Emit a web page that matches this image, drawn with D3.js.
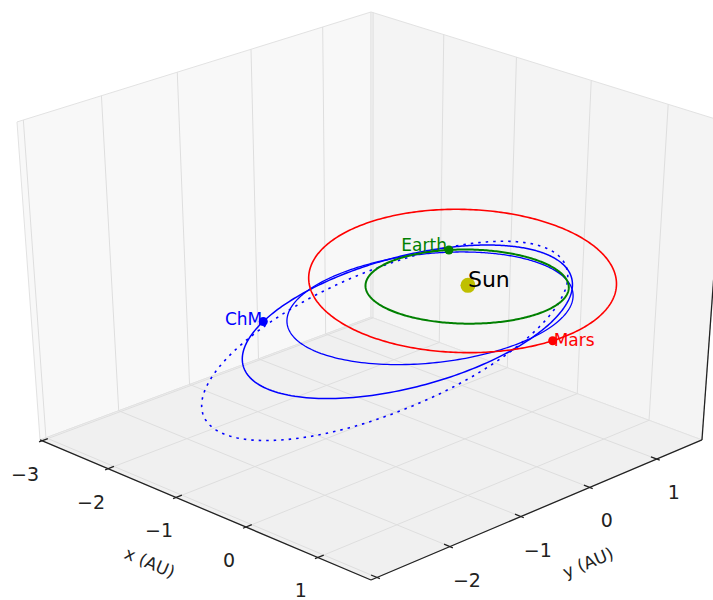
<!DOCTYPE html>
<html><head><meta charset="utf-8">
<script src="https://cdn.jsdelivr.net/npm/d3@7"></script>
<style>body{margin:0;background:#fff} svg{display:block} text{font-family:"DejaVu Sans",sans-serif}</style>
</head><body><svg id="chart" width="713" height="600"></svg>
<script>
// Orbits of Earth, Mars and the Chelyabinsk meteoroid (ChM), 3D view
const xLim = [-3.03, 1.72], yLim = [-3.08, 1.69], zLim = [-0.5, 0.5];
const xTicks = [-3, -2, -1, 0, 1];
const yTicks = [-3, -2, -1, 0, 1];

// orbital elements (AU, degrees)
const orbitNames = ["ChM-1", "ChM-2", "ChM-3", "Earth", "Mars"];
const semiMajor = [1.710, 1.484, 1.919, 1.0, 1.5237];
const eccentricity = [0.486, 0.426, 0.561, 0.0167, 0.0934];
const inclination = [3.32, 1.07, 5.29, 0, 1.85];
const ascNode = [327.7, 319.0, 326.8, 0, 49.56];
const argPeri = [120.5, 139.1, 117.3, 102.94, 286.5];

// bodies marked on their orbits (true anomaly, degrees)
const bodyNames = ["ChM", "Earth", "Mars"];
const bodyOrbit = [0, 3, 4];
const bodyAnomaly = [137, 42, 14];

const orbitStyle = {
  "ChM-1": { color: "#0000ff", width: 1.5, dash: null },
  "ChM-2": { color: "#0000ff", width: 1.3, dash: null },
  "ChM-3": { color: "#0000ff", width: 1.6, dash: "2.5,5" },
  "Earth": { color: "#008000", width: 2, dash: null },
  "Mars": { color: "#ff0000", width: 1.6, dash: null }
};
const bodyLabel = {
  "ChM": { anchor: "end", dx: -1, dy: 3 },
  "Earth": { anchor: "end", dx: -2, dy: 1 },
  "Mars": { anchor: "start", dx: 1, dy: 5 }
};

// view
const elev = 32, azim = -45, camDist = 8.85, boxHalfZ = 0.562;
const cx = 371, cy = 286.3, kx = 483.8, ky = 333.2;
const width = 713, height = 600;

const svg = d3.select("#chart");
const xScale = d3.scaleLinear().domain(xLim).range([-0.5, 0.5]);
const yScale = d3.scaleLinear().domain(yLim).range([-0.5, 0.5]);
const zScale = d3.scaleLinear().domain(zLim).range([-boxHalfZ, boxHalfZ]);
const el = elev * Math.PI / 180, az = azim * Math.PI / 180;
const nVec = [Math.cos(az) * Math.cos(el), Math.sin(az) * Math.cos(el), Math.sin(el)];
const uVec = [-Math.sin(az), Math.cos(az), 0];
const vVec = [-Math.cos(az) * Math.sin(el), -Math.sin(az) * Math.sin(el), Math.cos(el)];

function project([x, y, z]) {
  const q = [xScale(x), yScale(y), zScale(z)];
  const dot = a => a[0] * q[0] + a[1] * q[1] + a[2] * q[2];
  const w = 1 - dot(nVec) / camDist;
  return [cx + kx * dot(uVec) / w, cy - ky * dot(vVec) / w];
}

const [x0, x1] = xLim, [y0, y1] = yLim, [z0, z1] = zLim;
const line = d3.line();

// panes
const panes = [
  { pts: [[x0, y0, z0], [x0, y1, z0], [x0, y1, z1], [x0, y0, z1]], fill: "#f8f8f8" },
  { pts: [[x0, y1, z0], [x1, y1, z0], [x1, y1, z1], [x0, y1, z1]], fill: "#f4f4f4" },
  { pts: [[x0, y0, z0], [x1, y0, z0], [x1, y1, z0], [x0, y1, z0]], fill: "#f0f0f0" }
];
svg.append("g").selectAll("path").data(panes).join("path")
  .attr("d", d => line(d.pts.map(project)) + "Z")
  .attr("fill", d => d.fill).attr("stroke", "#e2e2e2").attr("stroke-width", 1);

// grid
const grid = [];
xTicks.forEach(t => {
  grid.push([[t, y0, z0], [t, y1, z0]]);
  grid.push([[t, y1, z0], [t, y1, z1]]);
});
yTicks.forEach(t => {
  grid.push([[x0, t, z0], [x1, t, z0]]);
  grid.push([[x0, t, z0], [x0, t, z1]]);
});
svg.append("g").selectAll("path").data(grid).join("path")
  .attr("d", d => line(d.map(project)))
  .attr("fill", "none").attr("stroke", "#dedede").attr("stroke-width", 1);

// axis lines
const axes = [[[x0, y0, z0], [x1, y0, z0]], [[x1, y0, z0], [x1, y1, z0]], [[x1, y1, z0], [x1, y1, z1]]];
svg.append("g").selectAll("path").data(axes).join("path")
  .attr("d", d => line(d.map(project)))
  .attr("fill", "none").attr("stroke", "#222").attr("stroke-width", 1.3);

const dy = (y1 - y0) / 12, dx = (x1 - x0) / 12;
const tickG = svg.append("g").attr("stroke", "#222").attr("stroke-width", 1.3);
xTicks.forEach(t => tickG.append("path").attr("d", line([[t, y0 + 0.2 * dy, z0], [t, y0 - 0.1 * dy, z0]].map(project))));
yTicks.forEach(t => tickG.append("path").attr("d", line([[x1 - 0.2 * dx, t, z0], [x1 + 0.1 * dx, t, z0]].map(project))));

// tick labels (the y = -3 label falls below the frame)
const fmt = t => String(t).replace("-", "\u2212");
const xLabels = xTicks.map(t => ({ t, p: project([t, y0, z0]), off: [-17, 33] }));
const yLabels = yTicks.map(t => ({ t, p: project([x1, t, z0]), off: [17, 33] }));
svg.append("g").selectAll("text")
  .data(xLabels.concat(yLabels).filter(d => d.p[1] + d.off[1] < height))
  .join("text")
  .attr("x", d => d.p[0] + d.off[0]).attr("y", d => d.p[1] + d.off[1])
  .attr("text-anchor", "middle").attr("dominant-baseline", "central")
  .attr("font-size", 19).attr("fill", "#222").text(d => fmt(d.t));

function axisTitle(a, b, off, txt) {
  const pa = project(a), pb = project(b);
  const ang = Math.atan2(pb[1] - pa[1], pb[0] - pa[0]) * 180 / Math.PI;
  const rot = Math.abs(ang) > 90 ? ang - 180 : ang;
  const mid = project(a.map((v, i) => (v + b[i]) / 2));
  svg.append("text").attr("transform", `translate(${mid[0] + off[0]},${mid[1] + off[1]}) rotate(${rot})`)
    .attr("text-anchor", "middle").attr("dominant-baseline", "central")
    .attr("font-size", 17).attr("fill", "#222").text(txt);
}
axisTitle([x0, y0, z0], [x1, y0, z0], [-50, 55], "x (AU)");
axisTitle([x1, y0, z0], [x1, y1, z0], [46, 55], "y (AU)");

// orbits
const D = Math.PI / 180;
function orbitPoint(k, nu) {
  const a = semiMajor[k], e = eccentricity[k];
  const r = a * (1 - e * e) / (1 + e * Math.cos(nu * D));
  const u = (argPeri[k] + nu) * D;
  const cO = Math.cos(ascNode[k] * D), sO = Math.sin(ascNode[k] * D);
  const ci = Math.cos(inclination[k] * D), si = Math.sin(inclination[k] * D);
  return [r * (cO * Math.cos(u) - sO * Math.sin(u) * ci),
          r * (sO * Math.cos(u) + cO * Math.sin(u) * ci),
          r * Math.sin(u) * si];
}
const anomalies = d3.range(0, 360, 1);
svg.append("g").selectAll("path").data(orbitNames).join("path")
  .attr("d", (nm, k) => line(anomalies.map(nu => project(orbitPoint(k, nu)))) + "Z")
  .attr("fill", "none")
  .attr("stroke", nm => orbitStyle[nm].color)
  .attr("stroke-width", nm => orbitStyle[nm].width)
  .attr("stroke-dasharray", nm => orbitStyle[nm].dash);

// Sun
const sun = project([0, 0, 0]);
svg.append("circle").attr("cx", sun[0]).attr("cy", sun[1]).attr("r", 7.5).attr("fill", "#bfbf00");
svg.append("text").attr("x", sun[0]).attr("y", sun[1] + 2).attr("font-size", 22).attr("fill", "#000").text("Sun");

// bodies
const bodies = bodyNames.map((nm, i) => ({
  nm, color: orbitStyle[orbitNames[bodyOrbit[i]]].color,
  p: project(orbitPoint(bodyOrbit[i], bodyAnomaly[i]))
}));
const bodyG = svg.append("g").selectAll("g").data(bodies).join("g");
bodyG.append("circle").attr("cx", d => d.p[0]).attr("cy", d => d.p[1]).attr("r", 4.5).attr("fill", d => d.color);
bodyG.append("text")
  .attr("x", d => d.p[0] + bodyLabel[d.nm].dx).attr("y", d => d.p[1] + bodyLabel[d.nm].dy)
  .attr("text-anchor", d => bodyLabel[d.nm].anchor)
  .attr("font-size", 17).attr("fill", d => d.color).text(d => d.nm);
</script></body></html>
